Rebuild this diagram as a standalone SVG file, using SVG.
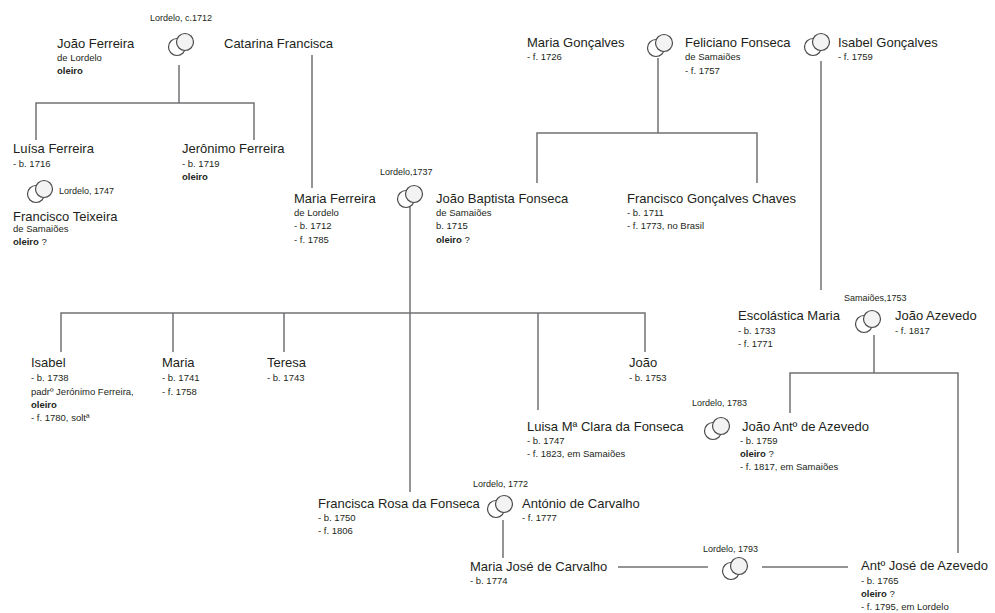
<svg xmlns="http://www.w3.org/2000/svg" xmlns:xlink="http://www.w3.org/1999/xlink" width="995" height="613" viewBox="0 0 995 613">
<style>
text{font-family:"Liberation Sans",Arial,sans-serif;fill:#231f20}
.n{font-size:13px}
.s{font-size:9.5px}
.p{font-size:9px}
.b{font-weight:bold}
.c{fill:none;stroke:#707174;stroke-width:1.5}
</style>
<defs>
<g id="ring">
<circle cx="-4" cy="3" r="8.5" fill="#fff" stroke="#4a4a4a" stroke-width="1.2"/>
<circle cx="4" cy="-2" r="8.5" fill="#f3f3f3" stroke="#4a4a4a" stroke-width="1.2"/>
</g>
</defs>
<rect width="995" height="613" fill="#fff"/>
<g id="connectors" class="c">
<path d="M179,65V103"/>
<path d="M36,140V103H254V140"/>
<path d="M312,55V188"/>
<path d="M658,58V133"/>
<path d="M537,183V133H757V183"/>
<path d="M821,61V290"/>
<path d="M410,207V492"/>
<path d="M61,352V313H645V352"/>
<path d="M173,313V352"/>
<path d="M284,313V352"/>
<path d="M538,313V410"/>
<path d="M874,335V373"/>
<path d="M790,413V373H958V553"/>
<path d="M503,520V558"/>
<path d="M618,567H708"/>
<path d="M762,567H848"/>
</g>
<g id="m-joao-catarina"><use xlink:href="#ring" x="181" y="44"/><text class="p" x="150" y="21">Lordelo, c.1712</text></g>
<g id="joao-ferreira"><text class="n" x="57" y="48">João Ferreira</text><text class="s" x="57" y="61">de Lordelo</text><text class="s b" x="57" y="74">oleiro</text></g>
<g id="catarina-francisca"><text class="n" x="224" y="48">Catarina Francisca</text></g>
<g id="luisa-ferreira"><text class="n" x="13" y="153">Luísa Ferreira</text><text class="s" x="13" y="167">- b. 1716</text></g>
<g id="m-luisa-francisco"><use xlink:href="#ring" x="40" y="191"/><text class="p" x="59" y="194">Lordelo, 1747</text></g>
<g id="francisco-teixeira"><text class="n" x="13" y="221">Francisco Teixeira</text><text class="s" x="13" y="232">de Samaiões</text><text class="s" x="13" y="245"><tspan class="b">oleiro</tspan> ?</text></g>
<g id="jeronimo-ferreira"><text class="n" x="182" y="153">Jerônimo Ferreira</text><text class="s" x="182" y="167">- b. 1719</text><text class="s b" x="182" y="180">oleiro</text></g>
<g id="maria-goncalves"><text class="n" x="527" y="47">Maria Gonçalves</text><text class="s" x="527" y="60">- f. 1726</text></g>
<g id="m-maria-feliciano"><use xlink:href="#ring" x="660" y="45"/></g>
<g id="feliciano-fonseca"><text class="n" x="685" y="47">Feliciano Fonseca</text><text class="s" x="685" y="60">de Samaiões</text><text class="s" x="685" y="74">- f. 1757</text></g>
<g id="m-feliciano-isabel"><use xlink:href="#ring" x="817" y="44"/></g>
<g id="isabel-goncalves"><text class="n" x="838" y="47">Isabel Gonçalves</text><text class="s" x="838" y="60">- f. 1759</text></g>
<g id="maria-ferreira"><text class="n" x="294" y="203">Maria Ferreira</text><text class="s" x="294" y="216">de Lordelo</text><text class="s" x="294" y="229">- b. 1712</text><text class="s" x="294" y="243">- f. 1785</text></g>
<g id="m-maria-joao"><use xlink:href="#ring" x="410" y="196"/><text class="p" x="380" y="175">Lordelo,1737</text></g>
<g id="joao-baptista-fonseca"><text class="n" x="436" y="203">João Baptista Fonseca</text><text class="s" x="436" y="216">de Samaiões</text><text class="s" x="436" y="229">b. 1715</text><text class="s" x="436" y="243"><tspan class="b">oleiro</tspan> ?</text></g>
<g id="francisco-goncalves-chaves"><text class="n" x="627" y="203">Francisco Gonçalves Chaves</text><text class="s" x="627" y="216">- b. 1711</text><text class="s" x="627" y="229">- f. 1773, no Brasil</text></g>
<g id="isabel"><text class="n" x="31" y="367">Isabel</text><text class="s" x="31" y="381">- b. 1738</text><text class="s" x="31" y="395">padrº Jerónimo Ferreira,</text><text class="s b" x="31" y="408">oleiro</text><text class="s" x="31" y="421">- f. 1780, soltª</text></g>
<g id="maria"><text class="n" x="162" y="367">Maria</text><text class="s" x="162" y="381">- b. 1741</text><text class="s" x="162" y="395">- f. 1758</text></g>
<g id="teresa"><text class="n" x="267" y="367">Teresa</text><text class="s" x="267" y="381">- b. 1743</text></g>
<g id="joao"><text class="n" x="629" y="367">João</text><text class="s" x="629" y="381">- b. 1753</text></g>
<g id="luisa-clara"><text class="n" x="527" y="431">Luisa Mª Clara da Fonseca</text><text class="s" x="527" y="444">- b. 1747</text><text class="s" x="527" y="457">- f. 1823, em Samaiões</text></g>
<g id="escolastica-maria"><text class="n" x="738" y="320">Escolástica Maria</text><text class="s" x="738" y="334">- b. 1733</text><text class="s" x="738" y="347">- f. 1771</text></g>
<g id="m-escolastica-joao"><use xlink:href="#ring" x="868" y="321"/><text class="p" x="844" y="301">Samaiões,1753</text></g>
<g id="joao-azevedo"><text class="n" x="895" y="320">João Azevedo</text><text class="s" x="895" y="334">- f. 1817</text></g>
<g id="m-luisa-joao-antonio"><use xlink:href="#ring" x="717" y="428"/><text class="p" x="692" y="406">Lordelo, 1783</text></g>
<g id="joao-antonio-azevedo"><text class="n" x="742" y="431">João Antº de Azevedo</text><text class="s" x="740" y="444">- b. 1759</text><text class="s" x="740" y="457"><tspan class="b">oleiro</tspan> ?</text><text class="s" x="740" y="470">- f. 1817, em Samaiões</text></g>
<g id="francisca-rosa"><text class="n" x="318" y="508">Francisca Rosa da Fonseca</text><text class="s" x="318" y="521">- b. 1750</text><text class="s" x="318" y="534">- f. 1806</text></g>
<g id="m-francisca-antonio"><use xlink:href="#ring" x="500" y="506"/><text class="p" x="473" y="487">Lordelo, 1772</text></g>
<g id="antonio-carvalho"><text class="n" x="522" y="508">António de Carvalho</text><text class="s" x="522" y="521">- f. 1777</text></g>
<g id="maria-jose-carvalho"><text class="n" x="470" y="571">Maria José de Carvalho</text><text class="s" x="470" y="584">- b. 1774</text></g>
<g id="m-maria-jose-antonio"><use xlink:href="#ring" x="735" y="568"/><text class="p" x="703" y="552">Lordelo, 1793</text></g>
<g id="antonio-jose-azevedo"><text class="n" x="861" y="570">Antº José de Azevedo</text><text class="s" x="861" y="584">- b. 1765</text><text class="s" x="861" y="597"><tspan class="b">oleiro</tspan> ?</text><text class="s" x="861" y="610">- f. 1795, em Lordelo</text></g>
</svg>
